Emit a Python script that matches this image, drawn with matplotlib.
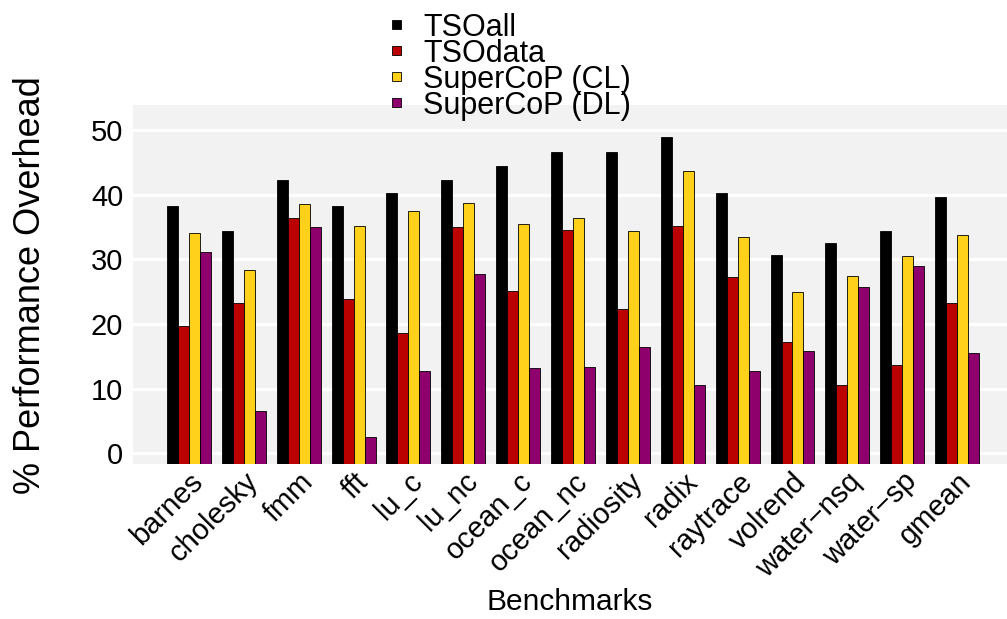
import numpy as np
import matplotlib
matplotlib.use("Agg")
import matplotlib.pyplot as plt
from matplotlib.patches import Patch

plt.rcParams['font.family'] = ['Liberation Sans', 'DejaVu Sans']

benchmarks = ["barnes", "cholesky", "fmm", "fft", "lu_c", "lu_nc", "ocean_c",
              "ocean_nc", "radiosity", "radix", "raytrace", "volrend",
              "water\u2212nsq", "water\u2212sp", "gmean"]
tso_all = [38.2, 34.4, 42.3, 38.2, 40.3, 42.3, 44.4, 46.6, 46.6, 48.9, 40.3, 30.7, 32.5, 34.4, 39.7]
tso_data = [19.7, 23.3, 36.4, 23.9, 18.6, 35.0, 25.1, 34.5, 22.4, 35.1, 27.2, 17.2, 10.6, 13.6, 23.2]
supercop_cl = [34.0, 28.3, 38.5, 35.1, 37.4, 38.7, 35.5, 36.4, 34.4, 43.6, 33.5, 24.9, 27.5, 30.5, 33.8]
supercop_dl = [31.1, 6.6, 35.0, 2.6, 12.8, 27.7, 13.2, 13.4, 16.5, 10.6, 12.8, 15.9, 25.7, 28.9, 15.5]

series = [("TSOall", tso_all, "#000000"),
          ("TSOdata", tso_data, "#BB0000"),
          ("SuperCoP (CL)", supercop_cl, "#FFD11A"),
          ("SuperCoP (DL)", supercop_dl, "#8E006B")]

ymin, ymax = -1.7, 53.86

fig = plt.figure(figsize=(10.07, 6.19), dpi=100)
ax = fig.add_axes([0.1321, 0.2496, 0.8679, 0.5808])
ax.set_facecolor("#F2F2F2")

x = np.arange(len(benchmarks))
w = 0.2
for i, (name, vals, col) in enumerate(series):
    vals = np.array(vals)
    ax.bar(x + (i - 1.5) * w, vals - ymin, w, bottom=ymin, color=col,
           edgecolor="#000000", linewidth=0.6, label=name, zorder=3)

ax.set_ylim(ymin, ymax)
ax.set_xlim(-1.02, 14.91)
ax.set_yticks([0, 10, 20, 30, 40, 50])
ax.yaxis.grid(True, color="white", linewidth=2.2, zorder=0)
ax.set_axisbelow(True)
for s in ax.spines.values():
    s.set_visible(False)
ax.tick_params(axis="both", length=0, labelsize=21, colors="#000000")
ax.tick_params(axis="y", pad=7)
ax.tick_params(axis="x", pad=2)
ax.set_xticks(x)
ax.set_xticklabels(benchmarks, rotation=45, ha="right", rotation_mode="anchor")

ax.set_ylabel("% Performance Overhead", fontsize=26)
ax.yaxis.set_label_coords(-0.097, 0.5)
ax.set_xlabel("Benchmarks", fontsize=21.5)
ax.xaxis.set_label_coords(0.5, -0.343)

# small square keys, tightly stacked like the original
handles = [Patch(facecolor=c, edgecolor="#000000", linewidth=0.6) for _, _, c in series]
labels = [n for n, _, _ in series]
fig.legend(handles, labels, loc="upper left", bbox_to_anchor=(0.389, 0.979),
           frameon=False, fontsize=22, handlelength=0.3, handleheight=0.08,
           handletextpad=0.72, labelspacing=-0.135, borderaxespad=0, borderpad=0)

fig.savefig("out.png", dpi=100)
